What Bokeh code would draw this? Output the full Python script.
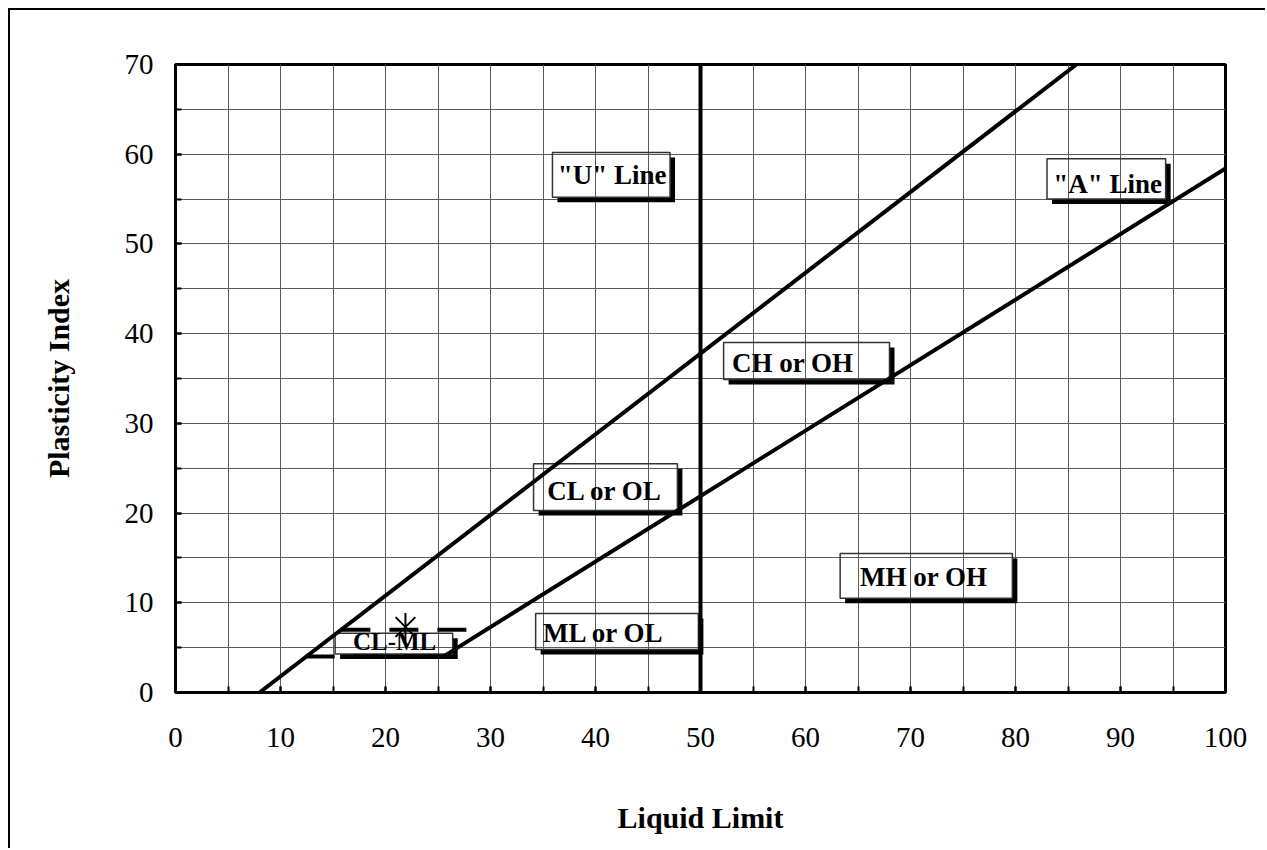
from bokeh.plotting import figure
from bokeh.models import SingleIntervalTicker, Range1d
from bokeh.core.properties import value
from bokeh.embed import file_html
from bokeh.resources import INLINE

# ---- data ----
u_line_ll = [8.0, 85.8]
u_line_pi = [0.0, 70.0]
a_line_ll = [24.0, 25.5, 100.0]
a_line_pi = [4.0, 4.0, 58.4]
boundary_ll = [50.0, 50.0]
boundary_pi = [0.0, 70.0]
clml_lower_ll = [12.4, 25.5]
clml_lower_pi = [4.0, 4.0]
clml_upper_ll = [15.8, 29.6]
clml_upper_pi = [7.0, 7.0]
sample_ll = [21.9]
sample_pi = [7.3]

labels = ['"U" Line', '"A" Line', 'CH or OH', 'CL or OL', 'MH or OH', 'ML or OL', 'CL-ML']
box_left = [35.9, 83.0, 52.2, 34.1, 63.3, 34.3, 15.2]
box_right = [47.1, 94.3, 68.0, 47.8, 79.7, 49.8, 26.4]
box_top = [60.2, 59.5, 39.0, 25.5, 15.5, 8.8, 6.6]
box_bottom = [55.2, 55.0, 34.9, 20.3, 10.5, 4.8, 4.3]
text_ll = [36.4, 83.6, 53.0, 35.4, 65.2, 35.0, 16.9]
text_pi = [57.7, 56.7, 36.7, 22.5, 12.9, 6.6, 5.7]
text_size = ["27px", "27px", "27px", "27px", "27px", "27px", "25px"]

x_range = (0, 100)
y_range = (0, 70)

FONT = "Liberation Serif"

p = figure(width=1257, height=840, output_backend="svg", toolbar_location=None,
           x_range=Range1d(*x_range), y_range=Range1d(*y_range),
           min_border_left=165, min_border_right=42, min_border_top=54, min_border_bottom=158)
p.styles = {"margin-left": "8px", "margin-top": "8px",
            "border-left": "2px solid black", "border-top": "2px solid black"}

p.outline_line_color = "black"
p.outline_line_width = 3

for ax in (p.xaxis[0], p.yaxis[0]):
    ax.ticker = SingleIntervalTicker(interval=10, num_minor_ticks=2)
    ax.axis_line_width = 3
    ax.axis_line_color = "black"
    ax.major_tick_in = 6
    ax.major_tick_out = 0
    ax.minor_tick_in = 6
    ax.minor_tick_out = 0
    ax.major_tick_line_width = 2
    ax.minor_tick_line_width = 2
    ax.major_label_text_font = FONT
    ax.major_label_text_font_size = "29px"
    ax.major_label_text_color = "black"
    ax.axis_label_text_font = FONT
    ax.axis_label_text_font_style = "bold"
    ax.axis_label_text_font_size = "30px"
    ax.axis_label_text_color = "black"

p.xaxis.axis_label = "Liquid Limit"
p.yaxis.axis_label = "Plasticity Index"
p.xaxis.major_label_standoff = 35
p.xaxis.axis_label_standoff = 51
p.yaxis.major_label_standoff = 22
p.yaxis.axis_label_standoff = 47

for g in (p.xgrid[0], p.ygrid[0]):
    g.grid_line_color = "#5a5a5a"
    g.grid_line_width = 1
    g.minor_grid_line_color = "#5a5a5a"
    g.minor_grid_line_width = 1

# label boxes (transparent) with drop shadow
px_x = (x_range[1] - x_range[0]) / 1050.0
px_y = (y_range[1] - y_range[0]) / 628.0
shadow_xs, shadow_ys = [], []
for l, r, t, b in zip(box_left, box_right, box_top, box_bottom):
    shadow_xs.append([l + 5 * px_x, r + 2.5 * px_x, r + 2.5 * px_x])
    shadow_ys.append([b - 2.5 * px_y, b - 2.5 * px_y, t - 5 * px_y])
p.multi_line(shadow_xs, shadow_ys, line_color="black", line_width=5, line_join="miter")
p.quad(left=box_left, right=box_right, top=box_top, bottom=box_bottom,
       fill_alpha=0, line_color="#333333", line_width=1.5)

# lines
p.line(u_line_ll, u_line_pi, line_color="black", line_width=4)
p.line(a_line_ll, a_line_pi, line_color="black", line_width=4)
p.line(boundary_ll, boundary_pi, line_color="black", line_width=4)
p.line(clml_lower_ll, clml_lower_pi, line_color="black", line_width=4, line_dash="29 19")
p.line(clml_upper_ll, clml_upper_pi, line_color="black", line_width=4, line_dash="29 19")

# labels
p.text(x=text_ll, y=text_pi, text=labels, text_font=value(FONT), text_font_style="bold",
       text_font_size=text_size, text_align="left", text_baseline="middle", text_color="black")

# sample point (asterisk: x plus vertical bar)
p.scatter(sample_ll, sample_pi, marker="x", size=28, line_color="black", line_width=2)
p.scatter(sample_ll, sample_pi, marker="dash", size=28, angle=1.5708, line_color="black", line_width=2)

open("out.html", "w").write(file_html(p, INLINE))
